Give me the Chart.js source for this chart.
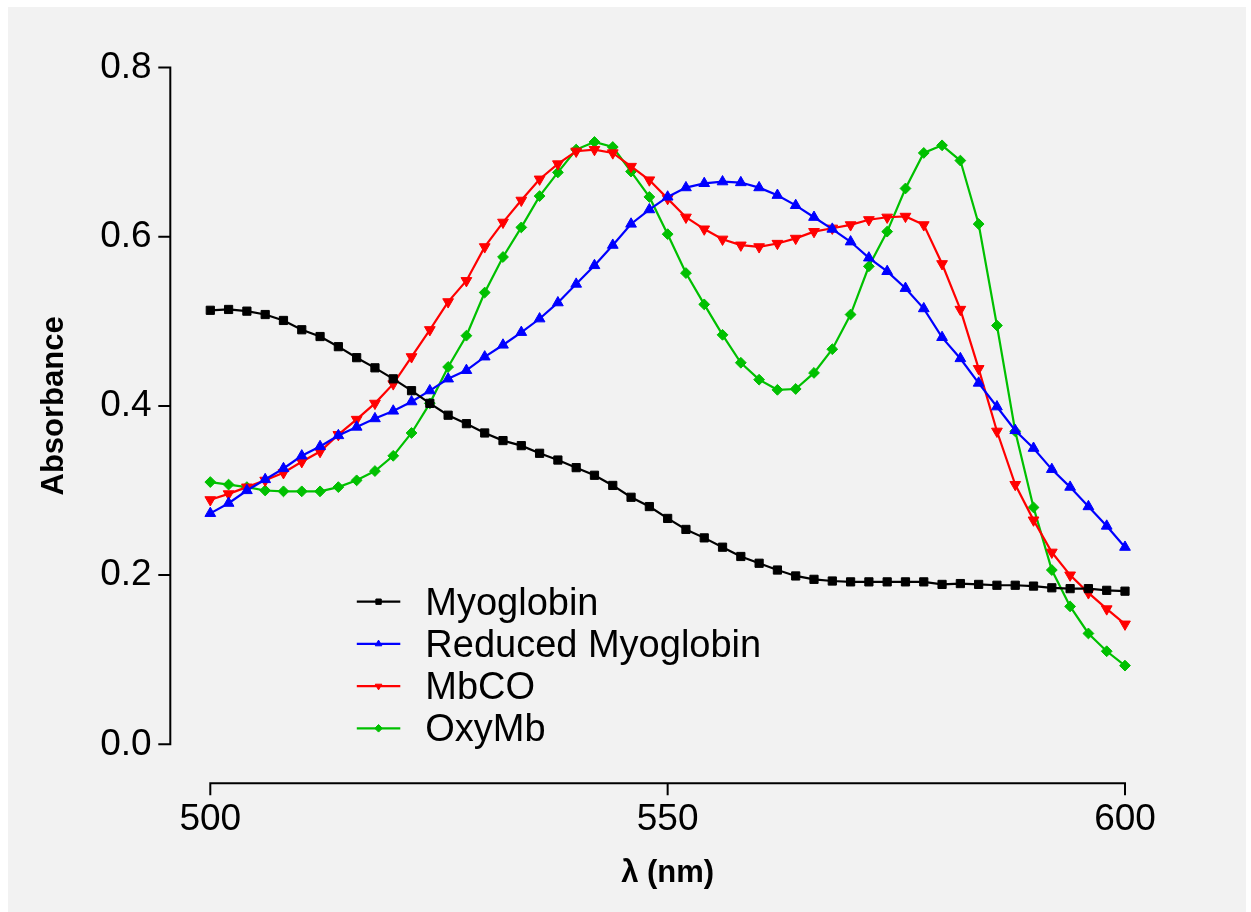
<!DOCTYPE html>
<html>
<head>
<meta charset="utf-8">
<title>Myoglobin absorbance spectra</title>
<script src="https://cdn.jsdelivr.net/npm/chart.js@4/dist/chart.umd.min.js"></script>
<style>
  html, body { margin: 0; padding: 0; background: #ffffff; }
  canvas { display: block; }
</style>
</head>
<body>
<canvas id="spectra" width="1251" height="912"></canvas>
<script>
// Wavelengths (nm), sampled every 2 nm
const wavelengths = [
  500, 502, 504, 506, 508, 510, 512, 514, 516, 518,
  520, 522, 524, 526, 528, 530, 532, 534, 536, 538,
  540, 542, 544, 546, 548, 550, 552, 554, 556, 558,
  560, 562, 564, 566, 568, 570, 572, 574, 576, 578,
  580, 582, 584, 586, 588, 590, 592, 594, 596, 598, 600
];

// Absorbance of each myoglobin form
const myoglobin = [
  0.513, 0.514, 0.512, 0.508, 0.501, 0.490, 0.482, 0.470, 0.457, 0.445,
  0.432, 0.418, 0.403, 0.389, 0.379, 0.368, 0.359, 0.353, 0.344, 0.336,
  0.327, 0.318, 0.306, 0.292, 0.281, 0.267, 0.254, 0.244, 0.233, 0.222,
  0.214, 0.206, 0.199, 0.195, 0.193, 0.192, 0.192, 0.192, 0.192, 0.192,
  0.189, 0.190, 0.189, 0.188, 0.188, 0.187, 0.185, 0.184, 0.184, 0.182, 0.181
];
const reducedMyoglobin = [
  0.273, 0.285, 0.300, 0.313, 0.326, 0.341, 0.352, 0.365, 0.375, 0.385,
  0.394, 0.405, 0.418, 0.432, 0.442, 0.458, 0.472, 0.487, 0.503, 0.522,
  0.544, 0.566, 0.590, 0.615, 0.632, 0.647, 0.658, 0.663, 0.665, 0.664,
  0.658, 0.649, 0.637, 0.623, 0.609, 0.594, 0.575, 0.559, 0.539, 0.515,
  0.481, 0.456, 0.427, 0.399, 0.371, 0.350, 0.325, 0.304, 0.281, 0.258, 0.233
];
const mbco = [
  0.289, 0.296, 0.304, 0.312, 0.321, 0.334, 0.346, 0.366, 0.384, 0.403,
  0.426, 0.458, 0.490, 0.523, 0.548, 0.588, 0.617, 0.643, 0.668, 0.686,
  0.701, 0.703, 0.699, 0.683, 0.667, 0.645, 0.623, 0.609, 0.597, 0.590,
  0.588, 0.592, 0.598, 0.606, 0.610, 0.614, 0.620, 0.623, 0.624, 0.614,
  0.568, 0.514, 0.444, 0.370, 0.307, 0.265, 0.227, 0.200, 0.179, 0.160, 0.142
];
const oxyMb = [
  0.310, 0.307, 0.304, 0.300, 0.299, 0.299, 0.299, 0.304, 0.312, 0.323,
  0.341, 0.368, 0.403, 0.446, 0.483, 0.534, 0.576, 0.611, 0.648, 0.676,
  0.703, 0.712, 0.706, 0.677, 0.647, 0.603, 0.557, 0.520, 0.484, 0.451,
  0.431, 0.419, 0.420, 0.439, 0.467, 0.508, 0.565, 0.606, 0.657, 0.699,
  0.708, 0.690, 0.615, 0.495, 0.370, 0.280, 0.206, 0.163, 0.131, 0.110, 0.093
];

// Axis ticks
const xTicks = [500, 550, 600];
const yTicks = [0.0, 0.2, 0.4, 0.6, 0.8];

const FONT = "'Liberation Sans', Arial, Helvetica, sans-serif";

function toPoints(values) {
  return wavelengths.map((w, i) => ({ x: w, y: values[i] }));
}

function series(label, values, color, style, radius, rotation) {
  return {
    label: label,
    data: toPoints(values),
    borderColor: color,
    backgroundColor: color,
    borderWidth: 2.2,
    pointStyle: style,
    pointRotation: rotation || 0,
    pointRadius: radius,
    pointHoverRadius: radius,
    pointBorderWidth: 1,
    pointBorderColor: color,
    pointBackgroundColor: color,
    tension: 0,
    fill: false,
    clip: false
  };
}

// Grey panel behind the whole figure
const panelPlugin = {
  id: 'panel',
  beforeDraw(chart) {
    const ctx = chart.ctx;
    ctx.save();
    ctx.fillStyle = '#ffffff';
    ctx.fillRect(0, 0, chart.width, chart.height);
    ctx.fillStyle = '#f2f2f2';
    ctx.fillRect(8, 7, 1238, 905);
    ctx.restore();
  }
};

// Offset axis lines with outward tick marks
const offsetAxesPlugin = {
  id: 'offsetAxes',
  beforeDatasetsDraw(chart) {
    const ctx = chart.ctx;
    const xs = chart.scales.x, ys = chart.scales.y;
    const axisX = xs.left - 40;
    const axisY = ys.bottom + 39;
    const tick = 11;
    ctx.save();
    ctx.strokeStyle = '#000000';
    ctx.lineWidth = 2;
    ctx.lineCap = 'square';
    ctx.beginPath();
    ctx.moveTo(axisX, ys.getPixelForValue(yTicks[yTicks.length - 1]));
    ctx.lineTo(axisX, ys.getPixelForValue(yTicks[0]));
    yTicks.forEach(v => {
      const py = ys.getPixelForValue(v);
      ctx.moveTo(axisX - tick, py);
      ctx.lineTo(axisX, py);
    });
    ctx.moveTo(xs.getPixelForValue(xTicks[0]), axisY);
    ctx.lineTo(xs.getPixelForValue(xTicks[xTicks.length - 1]), axisY);
    xTicks.forEach(v => {
      const px = xs.getPixelForValue(v);
      ctx.moveTo(px, axisY);
      ctx.lineTo(px, axisY + tick);
    });
    ctx.stroke();
    ctx.restore();
  }
};

// Legend placed inside the plot, lower left
const insideLegendPlugin = {
  id: 'insideLegend',
  afterDraw(chart) {
    const ctx = chart.ctx;
    const area = chart.chartArea;
    const x0 = area.left + 146.5;
    const x1 = area.left + 190;
    const tx = area.left + 215;
    const top = area.top + 534.2;
    const step = 42.2;
    ctx.save();
    chart.data.datasets.forEach((ds, i) => {
      const y = top + i * step;
      ctx.strokeStyle = ds.borderColor;
      ctx.lineWidth = 2.2;
      ctx.beginPath();
      ctx.moveTo(x0, y);
      ctx.lineTo(x1, y);
      ctx.stroke();
      ctx.fillStyle = ds.borderColor;
      ctx.strokeStyle = ds.borderColor;
      ctx.lineWidth = 1;
      Chart.helpers.drawPoint(ctx, {
        pointStyle: ds.pointStyle,
        rotation: ds.pointRotation,
        radius: 3.8,
        borderWidth: 1
      }, (x0 + x1) / 2, y);
      ctx.fillStyle = '#000000';
      ctx.font = '38px ' + FONT;
      ctx.textAlign = 'left';
      ctx.textBaseline = 'alphabetic';
      ctx.fillText(ds.label, tx, y + 13);
    });
    ctx.restore();
  }
};

new Chart(document.getElementById('spectra'), {
  type: 'line',
  data: {
    datasets: [
      series('Myoglobin', myoglobin, '#000000', 'rect', 5.8, 0),
      series('Reduced Myoglobin', reducedMyoglobin, '#0000ff', 'triangle', 6.2, 0),
      series('MbCO', mbco, '#ff0000', 'triangle', 6.2, 180),
      series('OxyMb', oxyMb, '#00c000', 'rectRot', 5.4, 0)
    ]
  },
  options: {
    responsive: false,
    animation: false,
    devicePixelRatio: 1,
    events: [],
    layout: { padding: { left: 0, top: 67.5, right: 126, bottom: 0 } },
    plugins: {
      legend: { display: false },
      tooltip: { enabled: false }
    },
    scales: {
      x: {
        type: 'linear',
        min: 500,
        max: 600,
        afterBuildTicks(scale) { scale.ticks = xTicks.map(v => ({ value: v })); },
        afterFit(scale) {
          scale.height = 912 - 744.3;
          scale.paddingLeft = 0;
          scale.paddingRight = 0;
        },
        grid: { display: false, drawTicks: false },
        border: { display: false },
        ticks: {
          padding: 53,
          color: '#000000',
          font: { family: FONT, size: 37 },
          maxRotation: 0,
          callback: v => String(v)
        },
        title: {
          display: true,
          text: 'λ (nm)',
          color: '#000000',
          font: { family: FONT, size: 31, weight: 'bold' },
          padding: { top: 0, bottom: 20.4 }
        }
      },
      y: {
        type: 'linear',
        min: 0,
        max: 0.8,
        afterBuildTicks(scale) { scale.ticks = yTicks.map(v => ({ value: v })); },
        afterFit(scale) {
          scale.width = 210.3;
          scale.paddingTop = 0;
          scale.paddingBottom = 0;
        },
        grid: { display: false, drawTicks: false },
        border: { display: false },
        ticks: {
          padding: 58.6,
          color: '#000000',
          font: { family: FONT, size: 37 },
          callback: v => Number(v).toFixed(1)
        },
        title: {
          display: true,
          text: 'Absorbance',
          color: '#000000',
          font: { family: FONT, size: 31, weight: 'bold' },
          padding: { top: 35.9, bottom: 0 }
        }
      }
    }
  },
  plugins: [panelPlugin, offsetAxesPlugin, insideLegendPlugin]
});
</script>
</body>
</html>
